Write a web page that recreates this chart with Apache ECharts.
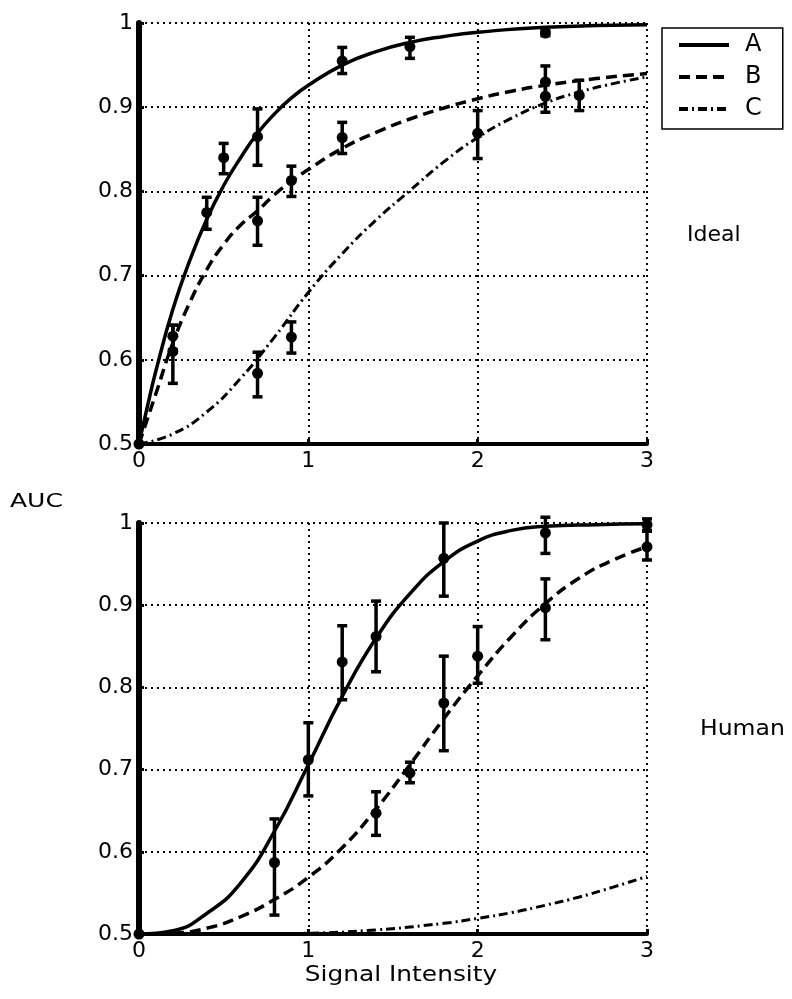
<!DOCTYPE html>
<html>
<head>
<meta charset="utf-8">
<script src="https://cdn.jsdelivr.net/npm/echarts@6/dist/echarts.min.js"></script>
<style>
  html, body { margin: 0; padding: 0; background: #fff; }
  #chart { width: 792px; height: 999px; }
</style>
</head>
<body>
<div id="chart"></div>
<script>
// fitted curves as [signal, auc]
const idealCurveA = [[0, 0.5], [0.05, 0.545], [0.1, 0.587], [0.2, 0.66], [0.3, 0.718], [0.4, 0.767], [0.5, 0.807], [0.6, 0.84], [0.7, 0.869], [0.8, 0.892], [0.9, 0.911], [1.0, 0.926], [1.2, 0.95], [1.4, 0.966], [1.6, 0.977], [1.8, 0.984], [2.0, 0.989], [2.4, 0.995], [3.0, 0.998]]
const idealCurveB = [[0, 0.5], [0.1, 0.56], [0.2, 0.62], [0.3, 0.668], [0.4, 0.707], [0.5, 0.737], [0.6, 0.76], [0.7, 0.777], [0.8, 0.796], [0.9, 0.812], [1.0, 0.826], [1.2, 0.851], [1.4, 0.87], [1.6, 0.886], [1.8, 0.899], [2.0, 0.91], [2.2, 0.919], [2.4, 0.926], [2.7, 0.934], [3.0, 0.94]]
const idealCurveC = [[0, 0.5], [0.2, 0.512], [0.4, 0.538], [0.6, 0.578], [0.8, 0.627], [1.0, 0.68], [1.2, 0.726], [1.4, 0.766], [1.6, 0.801], [1.8, 0.835], [2.0, 0.864], [2.2, 0.887], [2.4, 0.905], [2.6, 0.918], [2.8, 0.928], [3.0, 0.936]]

const humanCurveA = [[0, 0.5], [0.2, 0.504], [0.4, 0.525], [0.6, 0.562], [0.8, 0.625], [1.0, 0.706], [1.2, 0.789], [1.4, 0.86], [1.6, 0.914], [1.8, 0.953], [2.0, 0.978], [2.2, 0.991], [2.4, 0.996], [2.7, 0.998], [3.0, 0.999]]
const humanCurveB = [[0, 0.5], [0.2, 0.501], [0.4, 0.507], [0.6, 0.521], [0.8, 0.542], [1.0, 0.569], [1.2, 0.605], [1.4, 0.652], [1.6, 0.706], [1.8, 0.762], [2.0, 0.814], [2.2, 0.862], [2.4, 0.902], [2.6, 0.933], [2.8, 0.955], [3.0, 0.971]]
const humanCurveC = [[0, 0.5], [0.6, 0.5], [1.0, 0.501], [1.4, 0.505], [1.8, 0.513], [2.0, 0.519], [2.2, 0.526], [2.4, 0.535], [2.6, 0.545], [2.8, 0.557], [3.0, 0.57]]

// measured points: [signal, auc, errLow, errHigh]
const idealPointsA = [[0, 0.5, 0.5, 0.5], [0.2, 0.61, 0.572, 0.641], [0.4, 0.775, 0.755, 0.793], [0.5, 0.84, 0.821, 0.857], [0.7, 0.865, 0.831, 0.898], [1.2, 0.955, 0.94, 0.971], [1.6, 0.972, 0.958, 0.983], [2.4, 0.988, 0.985, 0.991]]
const idealPointsB = [[0.2, 0.628, 0.612, 0.641], [0.7, 0.765, 0.736, 0.793], [0.9, 0.813, 0.794, 0.83], [1.2, 0.864, 0.845, 0.882], [2.4, 0.93, 0.912, 0.949]]
const idealPointsC = [[0.7, 0.584, 0.556, 0.609], [0.9, 0.627, 0.608, 0.645], [2.0, 0.869, 0.839, 0.896], [2.4, 0.913, 0.894, 0.93], [2.6, 0.914, 0.896, 0.932]]

const humanPointsA = [[0, 0.5, 0.5, 0.5], [0.8, 0.587, 0.523, 0.64], [1.0, 0.712, 0.668, 0.757], [1.2, 0.831, 0.785, 0.875], [1.4, 0.862, 0.819, 0.905], [1.8, 0.957, 0.911, 1.0], [2.4, 0.988, 0.963, 1.007], [3.0, 0.998, 0.99, 1.005]]
const humanPointsB = [[1.4, 0.647, 0.62, 0.673], [1.6, 0.696, 0.684, 0.709], [1.8, 0.781, 0.723, 0.838], [2.0, 0.838, 0.805, 0.874], [2.4, 0.897, 0.858, 0.932], [3.0, 0.971, 0.955, 0.991]]

const legendNames = ['A', 'B', 'C']
const FONT = 'DejaVu Sans'

const curveStyles = {
  A: { color: '#000', width: 3.5, type: 'solid' },
  B: { color: '#000', width: 3.5, type: [11, 6] },
  C: { color: '#000', width: 3, type: [9, 4, 2, 4] },
}

const renderErrorBar = (params, api) => {
  const x = api.value(0)
  const top = api.coord([x, api.value(3)])
  const bottom = api.coord([x, api.value(2)])
  const cap = 5
  const style = { stroke: '#000', lineWidth: 3.5 }
  return {
    type: 'group',
    children: [
      { type: 'line', shape: { x1: top[0], y1: top[1], x2: bottom[0], y2: bottom[1] }, style },
      { type: 'line', shape: { x1: top[0] - cap, y1: top[1], x2: top[0] + cap, y2: top[1] }, style },
      { type: 'line', shape: { x1: bottom[0] - cap, y1: bottom[1], x2: bottom[0] + cap, y2: bottom[1] }, style },
    ],
  }
}

const curveSeries = (name, data, idx) => ({
  type: 'line',
  name,
  data,
  xAxisIndex: idx,
  yAxisIndex: idx,
  smooth: 0.5,
  symbol: 'none',
  itemStyle: { color: 'rgba(0,0,0,0)' },
  lineStyle: curveStyles[name],
  z: 3,
})

const pointSeries = (data, idx) => [
  {
    type: 'custom',
    name: 'err',
    data,
    xAxisIndex: idx,
    yAxisIndex: idx,
    encode: { x: 0, y: 1 },
    renderItem: renderErrorBar,
    clip: false,
    z: 4,
  },
  {
    type: 'scatter',
    name: 'pts',
    data: data.map((d) => [d[0], d[1]]),
    xAxisIndex: idx,
    yAxisIndex: idx,
    symbol: 'circle',
    symbolSize: 11,
    itemStyle: { color: '#000', opacity: 1 },
    z: 5,
  },
]

const xAxis = (idx) => ({
  type: 'value',
  gridIndex: idx,
  min: 0,
  max: 3,
  interval: 1,
  axisLine: { show: true, lineStyle: { color: '#000', width: 4 } },
  axisTick: { show: true, inside: true, length: 5, lineStyle: { color: '#000', width: 3 } },
  axisLabel: { color: '#000', fontFamily: FONT, fontSize: 22, margin: 6 },
  splitLine: { show: true, lineStyle: { color: '#000', width: 2, type: [2, 4] } },
})

const yAxis = (idx) => ({
  type: 'value',
  gridIndex: idx,
  min: 0.5,
  max: 1,
  interval: 0.1,
  axisLine: { show: true, lineStyle: { color: '#000', width: 6 } },
  axisTick: { show: true, inside: true, length: 5, lineStyle: { color: '#000', width: 3 } },
  axisLabel: { color: '#000', fontFamily: FONT, fontSize: 22, margin: 6 },
  splitLine: { show: true, lineStyle: { color: '#000', width: 2, type: [2, 4] } },
})

const label = (text, x, y, size, align, scaleX) => ({
  type: 'text',
  x,
  y,
  scaleX: scaleX || 1,
  style: { text, x: 0, y: 0, fill: '#000', font: `${size}px "${FONT}"`, align, verticalAlign: 'middle' },
})

const option = {
  animation: false,
  backgroundColor: '#fff',
  grid: [
    { left: 139, right: 145, top: 23, bottom: 555 },
    { left: 139, right: 145, top: 523, bottom: 65 },
  ],
  xAxis: [xAxis(0), xAxis(1)],
  yAxis: [yAxis(0), yAxis(1)],
  legend: {
    data: legendNames,
    orient: 'vertical',
    left: 662,
    top: 28,
    padding: [5, 21, 8, 15],
    itemWidth: 50,
    itemHeight: 20,
    itemGap: 8,
    borderColor: '#000',
    borderWidth: 1.5,
    backgroundColor: '#fff',
    itemStyle: { color: 'rgba(0,0,0,0)', borderWidth: 0 },
    lineStyle: { width: 4 },
    textStyle: { color: '#000', fontFamily: FONT, fontSize: 24, lineHeight: 20, padding: [0, 0, 0, 11] },
    selectedMode: false,
  },
  graphic: [
    label('AUC', 10, 502, 20, 'left', 1.25),
    label('Ideal', 687, 235, 22, 'left', 1),
    label('Human', 700, 730, 21, 'left', 1.12),
    label('Signal Intensity', 401, 975, 22, 'center', 1.13),
  ],
  series: [
    curveSeries('A', idealCurveA, 0),
    curveSeries('B', idealCurveB, 0),
    curveSeries('C', idealCurveC, 0),
    ...pointSeries(idealPointsA, 0),
    ...pointSeries(idealPointsB, 0),
    ...pointSeries(idealPointsC, 0),
    curveSeries('A', humanCurveA, 1),
    curveSeries('B', humanCurveB, 1),
    curveSeries('C', humanCurveC, 1),
    ...pointSeries(humanPointsA, 1),
    ...pointSeries(humanPointsB, 1),
  ],
}

const chart = echarts.init(document.getElementById('chart'))
chart.setOption(option)
</script>
</body>
</html>
